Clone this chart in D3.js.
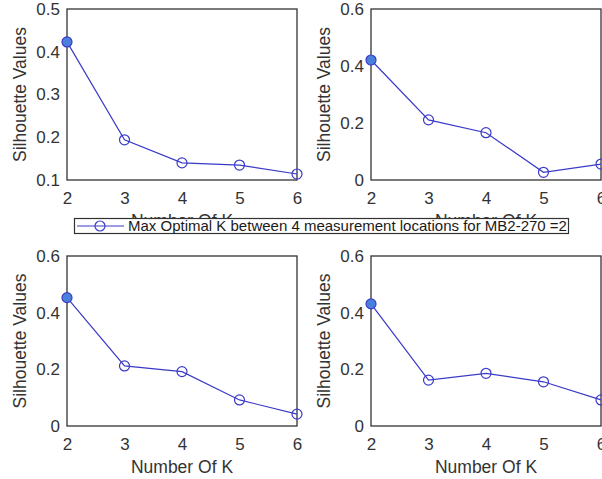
<!DOCTYPE html>
<html>
<head>
<meta charset="utf-8">
<script src="https://cdnjs.cloudflare.com/ajax/libs/d3/7.8.5/d3.min.js"></script>
<style>
  body { margin: 0; background: #fff; }
  svg { display: block; font-family: "Liberation Sans", Arial, sans-serif; }
  .tick text { fill: #333; font-size: 17px; }
  .domain { display: none; }
</style>
</head>
<body>
<div id="graph"></div>
<script>
const kValues = [2, 3, 4, 5, 6];
const sil1 = [0.423, 0.194, 0.140, 0.135, 0.114];
const sil2 = [0.421, 0.211, 0.166, 0.027, 0.056];
const sil3 = [0.453, 0.212, 0.192, 0.092, 0.042];
const sil4 = [0.431, 0.162, 0.186, 0.156, 0.092];
const yTicksTop = [0.1, 0.2, 0.3, 0.4, 0.5];
const yTicks = [0, 0.2, 0.4, 0.6];
const legendText = 'Max Optimal K between 4 measurement locations for MB2-270 =2';

const w = 602;
const h = 479;
const lineColor = '#3a3ac8';
const axisColor = '#333';

const svg = d3.select('#graph')
  .append('svg')
  .attr('width', w)
  .attr('height', h);

const fmt0 = d => d === 0 ? '0' : d3.format('.1f')(d);

// panel boxes
const panels = [
  {vals: sil1, ydom: [0.1, 0.5], ticks: yTicksTop, fmt: d3.format('.1f'), left: 67, right: 297, top: 9, bottom: 180},
  {vals: sil2, ydom: [0, 0.6], ticks: yTicks, fmt: fmt0, left: 371, right: 601, top: 9, bottom: 180},
  {vals: sil3, ydom: [0, 0.6], ticks: yTicks, fmt: fmt0, left: 67, right: 297, top: 256, bottom: 426},
  {vals: sil4, ydom: [0, 0.6], ticks: yTicks, fmt: fmt0, left: 371, right: 601, top: 256, bottom: 426}
];

panels.forEach(p => {
  const xScale = d3.scaleLinear().domain([2, 6]).range([p.left, p.right]);
  const yScale = d3.scaleLinear().domain(p.ydom).range([p.bottom, p.top]);
  const g = svg.append('g');

  //x-Axis
  g.append('g')
    .attr('transform', 'translate(0,' + p.bottom + ')')
    .call(d3.axisBottom(xScale).tickValues(kValues).tickSize(0).tickPadding(12).tickFormat(d3.format('d')));

  //y-Axis
  g.append('g')
    .attr('transform', 'translate(' + p.left + ',0)')
    .call(d3.axisLeft(yScale).tickValues(p.ticks).tickSize(0).tickPadding(7).tickFormat(p.fmt));

  // box
  g.append('rect')
    .attr('x', p.left)
    .attr('y', p.top)
    .attr('width', p.right - p.left)
    .attr('height', p.bottom - p.top)
    .attr('fill', 'none')
    .attr('stroke', axisColor)
    .attr('stroke-width', 1.3);

  //y-label
  g.append('text')
    .text('Silhouette Values')
    .attr('transform', 'translate(' + (p.left - 41) + ',' + ((p.top + p.bottom) / 2) + ') rotate(-90)')
    .attr('text-anchor', 'middle')
    .attr('font-size', 17.5)
    .attr('fill', axisColor);

  //x-label
  g.append('text')
    .text('Number Of K')
    .attr('x', (p.left + p.right) / 2)
    .attr('y', p.bottom + 47)
    .attr('text-anchor', 'middle')
    .attr('font-size', 17.5)
    .attr('fill', axisColor);

  const line = d3.line()
    .x((d, i) => xScale(kValues[i]))
    .y(d => yScale(d));

  g.append('path')
    .datum(p.vals)
    .attr('d', line)
    .attr('fill', 'none')
    .attr('stroke', lineColor)
    .attr('stroke-width', 1.2);

  g.selectAll('circle')
    .data(p.vals)
    .enter()
    .append('circle')
    .attr('cx', (d, i) => xScale(kValues[i]))
    .attr('cy', d => yScale(d))
    .attr('r', 5)
    .attr('fill', (d, i) => i === 0 ? '#4a80dc' : 'none')
    .attr('stroke', lineColor)
    .attr('stroke-width', 1.2);
});

// legend
const lg = svg.append('g');
lg.append('rect')
  .attr('x', 74.5)
  .attr('y', 218.5)
  .attr('width', 494)
  .attr('height', 15)
  .attr('fill', '#fff')
  .attr('stroke', axisColor)
  .attr('stroke-width', 1.2);
lg.append('line')
  .attr('x1', 77).attr('x2', 124)
  .attr('y1', 226).attr('y2', 226)
  .attr('stroke', lineColor)
  .attr('stroke-width', 1.2);
lg.append('circle')
  .attr('cx', 100).attr('cy', 226).attr('r', 5)
  .attr('fill', 'none')
  .attr('stroke', lineColor)
  .attr('stroke-width', 1.2);
lg.append('text')
  .text(legendText)
  .attr('x', 128)
  .attr('y', 231)
  .attr('font-size', 15)
  .attr('fill', '#1a1a1a');
</script>
</body>
</html>
